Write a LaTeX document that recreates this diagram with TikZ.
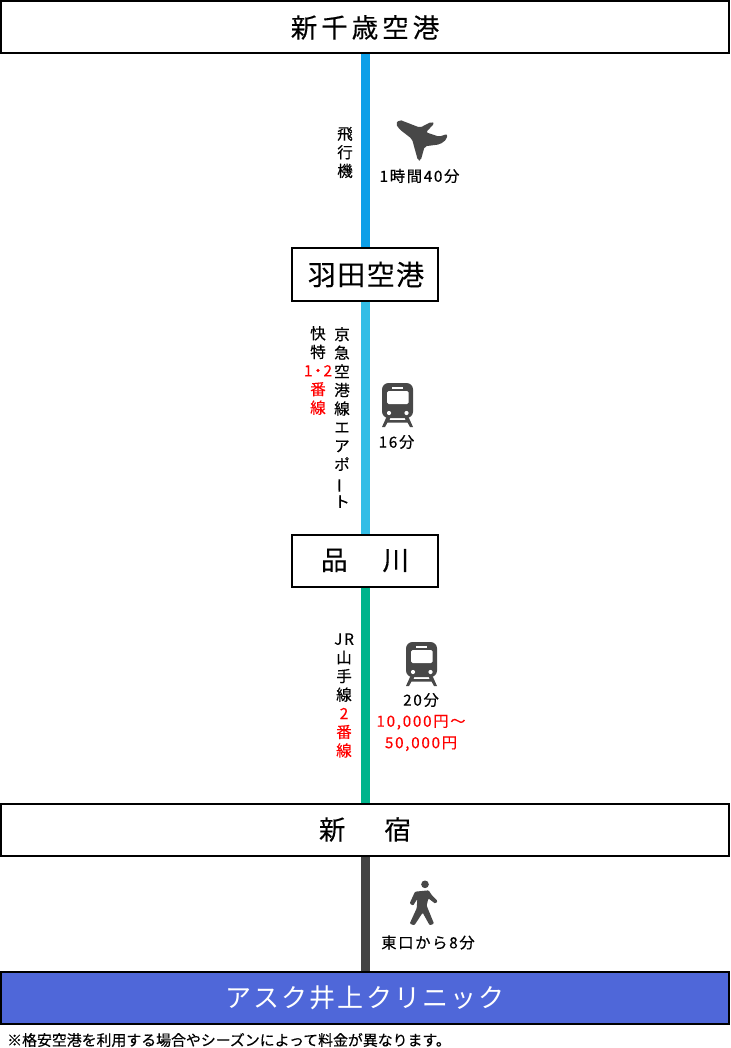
\documentclass[tikz,border=0pt]{standalone}
\usepackage{fontspec}
\setmainfont{Noto Sans CJK JP}
\newfontfamily\jp[FakeBold=0.35]{Noto Sans CJK JP}
\newfontfamily\jpw[LetterSpace=11,FakeBold=0.35]{Noto Sans CJK JP}
\newfontfamily\jpt[LetterSpace=15,FakeBold=0.25]{Noto Sans CJK JP}
\newfontfamily\jph[LetterSpace=5,FakeBold=0.25]{Noto Sans CJK JP}
\newfontfamily\jpn[LetterSpace=8]{Noto Sans CJK JP}
\definecolor{lineA}{HTML}{0D9FE8}
\definecolor{lineB}{HTML}{33BDE6}
\definecolor{lineC}{HTML}{00B48C}
\definecolor{lineD}{HTML}{444444}
\definecolor{clinic}{HTML}{4F67D9}
\definecolor{icon}{HTML}{484848}
\definecolor{redtxt}{HTML}{FF0000}
\tikzset{
  wide/.style={draw=black,line width=2pt,fill=white,minimum width=728pt,minimum height=52pt,inner sep=0pt,align=center},
  mid/.style={draw=black,line width=2pt,fill=white,minimum width=146pt,minimum height=52pt,inner sep=0pt,align=center},
  titlefont/.style={font=\jpt\fontsize{26.5}{30}\selectfont},
  rail/.style={line width=9pt},
  vtext/.style={inner sep=0pt,align=center,font=\jp\fontsize{15.5}{18.6}\selectfont},
  htext/.style={inner sep=0pt,align=center,font=\jpw\fontsize{15.3}{19}\selectfont}
}
\newcommand{\trainicon}[2]{%
  \begin{scope}[shift={(#1,#2)}]
    \fill[icon,rounded corners=6.5pt] (0,0) rectangle (31,35);
    \fill[white,rounded corners=1.5pt] (5,8) rectangle (26.5,21);
    \fill[white] (10,3.5) rectangle (21,6);
    \fill[white] (7,30) circle (2.1);
    \fill[white] (24.5,30) circle (2.1);
    \fill[icon] (4.5,34) -- (8.5,34) -- (7.5,37) -- (23.5,37) -- (22.5,34) -- (26.5,34) -- (31,44) -- (28,44) -- (25.5,39.5) -- (5.5,39.5) -- (3,44) -- (0,44) -- cycle;
  \end{scope}}
\begin{document}
\begin{tikzpicture}[x=1pt,y=-1pt]
\useasboundingbox (0,0) rectangle (730,1048);
\fill[white] (0,0) rectangle (730,1048);
% stations
\node[wide,titlefont] (chitose) at (365,27.5) {\raisebox{-0.8pt}{新千歳空港}};
\node[mid,font=\jph\fontsize{28}{32}\selectfont] (haneda) at (365,274.5) {\hspace{2pt}羽田空港};
\node[mid,titlefont] (shinagawa) at (365,560.5) {品\hspace{35pt}川};
\node[wide,titlefont] (shinjuku) at (365,829.5) {\raisebox{-0.8pt}{新\hspace{39pt}宿}};
\node[wide,fill=clinic,text=white,font=\jpn\fontsize{26}{30}\selectfont] (ask) at (365,997.5) {アスク井上クリニック};
% connectors
\draw[rail,lineA] (chitose) -- (haneda);
\draw[rail,lineB] (haneda) -- (shinagawa);
\draw[rail,lineC] (shinagawa) -- (shinjuku);
\draw[rail,lineD] (shinjuku) -- (ask);
% leg 1
\node[vtext] (t1) at (345,152.5) {飛\\行\\機};
\begin{scope}[shift={(390,115)},x=0.3333pt,y=-0.3333pt]
  \fill[icon,rounded corners=2pt] (17,27) -- (28,14) -- (90,38) -- (125,20) -- (133,25) -- (108,52) -- (147,65) -- (172,57) -- (170,73) -- (150,88) -- (104,94) -- (92,137) -- (84,137) -- (66,72) -- (30,44) -- cycle;
\end{scope}
\node[htext] (d1) at (419.5,176) {1時間40分};
% leg 2
\node[vtext] (t2a) at (342,417.5) {京\\急\\空\\港\\線\\エ\\ア\\ポ\\\rotatebox[origin=c]{90}{ー}\\ト};
\node[vtext] (t2b) at (318,370.5) {快\\特\\\textcolor{redtxt}{1\makebox[11pt]{・}2}\\\textcolor{redtxt}{番}\\\textcolor{redtxt}{線}};
\trainicon{382}{383}
\node[htext] (d2) at (396.5,442) {16分};
% leg 3
\node[vtext] (t3) at (344,695.5) {{\jpw JR}\\山\\手\\線\\\textcolor{redtxt}{2}\\\textcolor{redtxt}{番}\\\textcolor{redtxt}{線}};
\trainicon{406}{642}
\node[htext] (d3) at (421,700) {20分};
\node[htext,text=redtxt] (p3) at (421,733) {10,000円～\\[2.5pt]50,000円};
% leg 4
\begin{scope}[shift={(400,875)},x=0.3333pt,y=-0.3333pt]
  \fill[icon] (75,28) circle (11.5);
  \fill[icon,rounded corners=1pt] (45,50) -- (86,46) -- (95,60) -- (113,78) -- (106,86) -- (85,70) -- (80,92) -- (102,146) -- (89,151) -- (68,113) -- (43,151) -- (29,146) -- (50,100) -- (52,72) -- (39,92) -- (29,85) -- cycle;
\end{scope}
\node[htext] (d4) at (428,942.5) {東口から8分};
% note
\node[inner sep=0pt,anchor=west,font=\jp\fontsize{14.9}{18}\selectfont] (note) at (7,1040) {※格安空港を利用する場合やシーズンによって料金が異なります。};
\end{tikzpicture}
\end{document}
